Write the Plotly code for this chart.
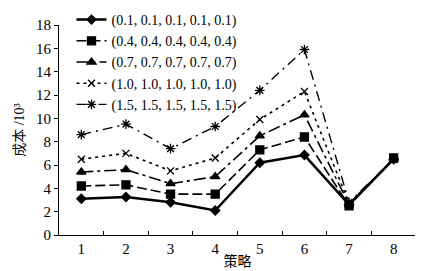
import plotly.graph_objects as go

strategies = [1, 2, 3, 4, 5, 6, 7, 8]
series_names = ["(0.1, 0.1, 0.1, 0.1, 0.1)", "(0.4, 0.4, 0.4, 0.4, 0.4)",
                "(0.7, 0.7, 0.7, 0.7, 0.7)", "(1.0, 1.0, 1.0, 1.0, 1.0)",
                "(1.5, 1.5, 1.5, 1.5, 1.5)"]
s01 = [3.1, 3.25, 2.8, 2.1, 6.2, 6.85, 2.6, 6.5]
s04 = [4.2, 4.3, 3.5, 3.5, 7.3, 8.4, 2.5, 6.6]
s07 = [5.4, 5.6, 4.4, 5.0, 8.5, 10.3, 2.6, 6.5]
s10 = [6.5, 7.0, 5.5, 6.6, 9.9, 12.3, 2.7, 6.5]
s15 = [8.6, 9.5, 7.4, 9.3, 12.4, 15.9, 2.8, 6.5]
y_ticks = [0, 2, 4, 6, 8, 10, 12, 14, 16, 18]

styles = [
    dict(dash="solid", width=2.5, symbol="diamond", size=7),
    dict(dash="10px,4px", width=1.6, symbol="square", size=8),
    dict(dash="12px,4px,3px,4px", width=1.6, symbol="triangle-up", size=8),
    dict(dash="3px,4px", width=1.6, symbol="x-thin-open", size=7),
    dict(dash="10px,5px,2px,5px", width=1.4, symbol="asterisk-open", size=8),
]

font = "Liberation Serif, Noto Sans CJK SC, serif"
fig = go.Figure()
for name, vals, st in zip(series_names, [s01, s04, s07, s10, s15], styles):
    fig.add_trace(go.Scatter(
        x=strategies, y=vals, name=name, mode="lines+markers",
        line=dict(color="black", width=st["width"], dash=st["dash"]),
        marker=dict(symbol=st["symbol"], size=st["size"], color="black",
                    line=dict(color="black", width=1.3)),
    ))

fig.update_layout(
    width=423, height=271,
    margin=dict(l=51, r=15, t=17, b=44, autoexpand=False),
    paper_bgcolor="white", plot_bgcolor="white",
    font=dict(family=font, size=14, color="black"),
    showlegend=True,
    legend=dict(x=0.035, y=1.1, xanchor="left", yanchor="top",
                bgcolor="rgba(0,0,0,0)", font=dict(size=14, family=font),
                tracegroupgap=0, itemwidth=30),
    xaxis=dict(range=[0.5, 8.5], tickvals=strategies, ticks="",
               showline=True, linecolor="black", linewidth=1,
               showgrid=False, zeroline=False,
               minor=dict(tickvals=[1.5, 2.5, 3.5, 4.5, 5.5, 6.5, 7.5, 8.5],
                          ticks="inside", ticklen=4, tickcolor="black"),
               title=dict(text="策略", standoff=0, font=dict(size=14)),
               tickfont=dict(size=15)),
    yaxis=dict(range=[0, 18.001], tickvals=y_ticks, ticks="outside", ticklen=4,
               tickcolor="black", showline=True, linecolor="black", linewidth=1,
               showgrid=False, zeroline=False,
               title=dict(text="成本 /10³", standoff=8, font=dict(size=14)),
               tickfont=dict(size=15)),
)
fig.write_html("out.html")
